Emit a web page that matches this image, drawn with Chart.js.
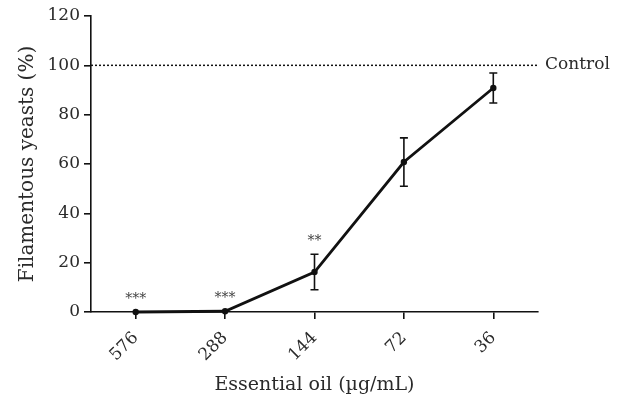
<!DOCTYPE html>
<html>
<head>
<meta charset="utf-8">
<script src="https://cdn.jsdelivr.net/npm/chart.js@4/dist/chart.umd.min.js"></script>
<style>
    html, body { margin: 0; padding: 0; background: #fff; }
    #wrap { width: 618px; height: 398px; position: relative; }
</style>
</head>
<body>
<div id="wrap"><canvas id="chart"></canvas></div>
<script>
// ==================== DATOS ====================
const concentrations = ['576', '288', '144', '72', '36'];
const filamentous = [0, 0.3, 16.2, 60.8, 90.8];
const errorSD = [0, 0, 7.2, 9.8, 6.1];
const significance = ['***', '***', '**', '', ''];
const controlValue = 100;
const controlLabel = 'Control';
const yTicks = [0, 20, 40, 60, 80, 100, 120];

const FONT = '"DejaVu Serif", "Liberation Serif", serif';
const INK = '#111';
const TEXT = '#2a2a2a';

// ==================== PLUGIN ====================
const extras = {
    id: 'extras',
    afterDatasetsDraw(chart) {
        const c = chart.ctx;
        const area = chart.chartArea;
        const x = chart.scales.x;
        const y = chart.scales.y;

        // linea de control
        const yc = y.getPixelForValue(controlValue);
        c.save();
        c.strokeStyle = INK;
        c.lineWidth = 1.5;
        c.setLineDash([2, 2]);
        c.beginPath();
        c.moveTo(area.left, yc);
        c.lineTo(area.right, yc);
        c.stroke();
        c.setLineDash([]);
        c.fillStyle = TEXT;
        c.font = '17px ' + FONT;
        c.textBaseline = 'middle';
        c.textAlign = 'left';
        c.fillText(controlLabel, area.right + 7, yc - 1);

        // barras de error
        c.lineWidth = 1.6;
        filamentous.forEach((v, i) => {
            const px = x.getPixelForValue(i);
            const err = errorSD[i];
            if (err > 0) {
                const top = y.getPixelForValue(v + err);
                const bot = y.getPixelForValue(v - err);
                c.beginPath();
                c.moveTo(px, top); c.lineTo(px, bot);
                c.moveTo(px - 4, top); c.lineTo(px + 4, top);
                c.moveTo(px - 4, bot); c.lineTo(px + 4, bot);
                c.stroke();
            }
            if (significance[i]) {
                c.font = '14px ' + FONT;
                c.textAlign = 'center';
                c.textBaseline = 'middle';
                c.fillStyle = '#444';
                c.fillText(significance[i], px, y.getPixelForValue(v + err) - 13);
            }
        });
        c.restore();
    }
};

// ==================== CHART ====================
const ctx = document.getElementById('chart').getContext('2d');

const chart = new Chart(ctx, {
    type: 'line',
    data: {
        labels: concentrations,
        datasets: [{
            data: filamentous,
            borderColor: INK,
            backgroundColor: INK,
            borderWidth: 2.8,
            pointRadius: 3.2,
            pointBorderWidth: 0,
            tension: 0,
            fill: false,
            clip: false
        }]
    },
    options: {
        animation: false,
        responsive: true,
        maintainAspectRatio: false,
        layout: { padding: { top: 16, right: 80, left: 0, bottom: 0 } },
        plugins: { legend: { display: false }, tooltip: { enabled: false } },
        scales: {
            x: {
                offset: true,
                afterFit: s => { s.height = 86; },
                border: { color: INK, width: 1.6 },
                grid: { offset: false, drawOnChartArea: false, drawTicks: true, tickLength: 7, color: INK, lineWidth: 1.6 },
                ticks: { color: TEXT, font: { family: FONT, size: 17 }, minRotation: 45, maxRotation: 45, padding: 9 },
                title: { display: true, text: 'Essential oil (µg/mL)', color: TEXT, font: { family: FONT, size: 19 }, padding: { top: 0, bottom: 2 } }
            },
            y: {
                min: 0,
                max: 120,
                afterFit: s => { s.width = 91; },
                afterBuildTicks: s => { s.ticks = yTicks.map(v => ({ value: v })); },
                border: { color: INK, width: 1.6 },
                grid: { drawOnChartArea: false, drawTicks: true, tickLength: 7, color: INK, lineWidth: 1.6 },
                ticks: { color: TEXT, font: { family: FONT, size: 17 }, padding: 4 },
                title: { display: true, text: 'Filamentous yeasts (%)', color: TEXT, font: { family: FONT, size: 20 }, padding: { top: 16, bottom: 0 } }
            }
        }
    },
    plugins: [extras]
});
</script>
</body>
</html>
